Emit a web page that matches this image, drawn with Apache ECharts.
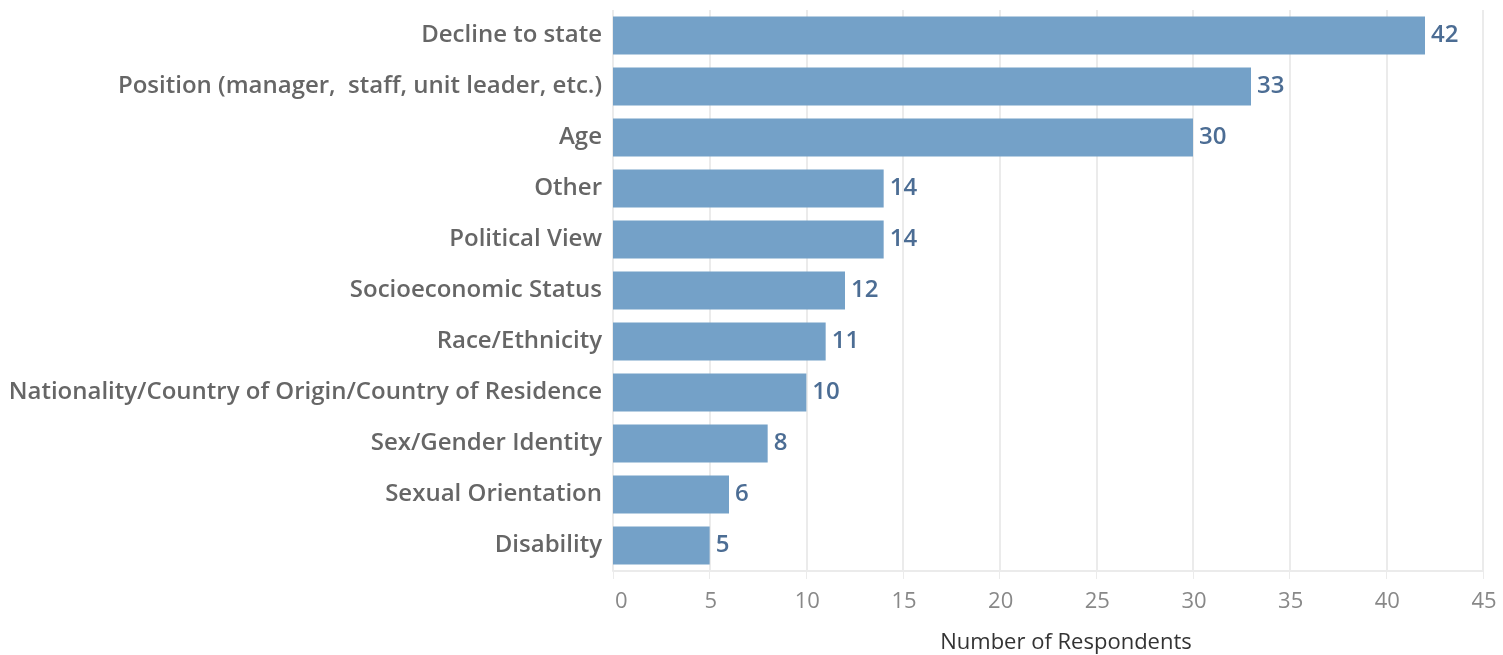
<!DOCTYPE html>
<html>
<head>
<meta charset="utf-8">
<script src="https://cdn.jsdelivr.net/npm/echarts@6/dist/echarts.min.js"></script>
<style>
  html, body { margin: 0; padding: 0; background: #fff; }
  #chart { width: 1503px; height: 655px; }
</style>
</head>
<body>
<div id="chart"></div>
<script>
const categories = [
  "Decline to state",
  "Position (manager,  staff, unit leader, etc.)",
  "Age",
  "Other",
  "Political View",
  "Socioeconomic Status",
  "Race/Ethnicity",
  "Nationality/Country of Origin/Country of Residence",
  "Sex/Gender Identity",
  "Sexual Orientation",
  "Disability",
];
const respondents = [42, 33, 30, 14, 14, 12, 11, 10, 8, 6, 5];
const xTicks = { min: 0, max: 45, interval: 5 };

const chart = echarts.init(document.getElementById("chart"), null, { renderer: "canvas" });
const FONT = "'Open Sans', Lato, sans-serif";

chart.setOption({
  backgroundColor: "#fff",
  animation: false,
  grid: { top: 10, bottom: 84, left: 613, right: 20, containLabel: false, outerBoundsMode: "none" },
  xAxis: {
    type: "value",
    min: xTicks.min,
    max: xTicks.max,
    interval: xTicks.interval,
    name: "Number of Respondents",
    nameLocation: "middle",
    nameGap: 61,
    nameTextStyle: { color: "#333", fontSize: 22, fontFamily: FONT, padding: [0, 0, 0, 36] },
    axisLine: { show: true, lineStyle: { color: "#ebebeb", width: 2 } },
    axisTick: { show: true, length: 8, lineStyle: { color: "#ebebeb", width: 1 } },
    axisLabel: { color: "#888", fontSize: 22, fontFamily: FONT, margin: 20, alignMinLabel: "left", padding: [0, 0, 0, 2] },
    splitLine: { show: true, lineStyle: { color: "#ebebeb", width: 2 } },
  },
  yAxis: {
    type: "category",
    data: categories,
    inverse: true,
    axisLine: { show: false },
    axisTick: { show: false },
    axisLabel: { color: "#666", fontSize: 24, fontWeight: 600, fontFamily: FONT, margin: 11, padding: [5, 0, 0, 0] },
    splitLine: { show: false },
  },
  series: [{
    type: "bar",
    data: respondents,
    barWidth: 38,
    itemStyle: { color: "#74a1c8" },
    label: {
      show: true,
      position: "right",
      distance: 6,
      padding: [4, 0, 0, 0],
      color: "#4c6d94",
      fontSize: 24,
      fontWeight: 600,
      fontFamily: FONT,
    },
  }],
});
</script>
</body>
</html>
